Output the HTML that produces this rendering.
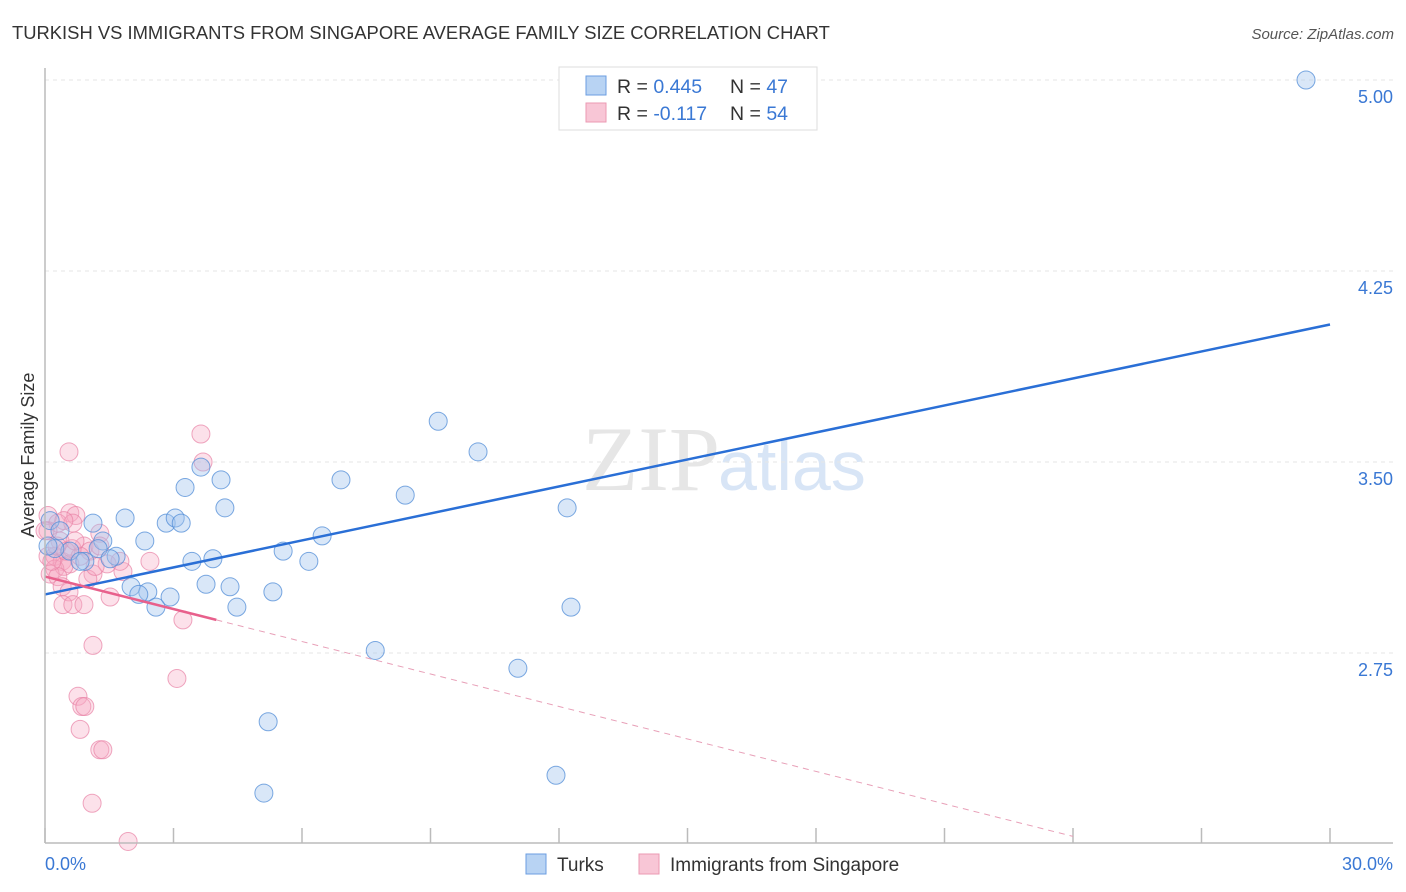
<!DOCTYPE html>
<html><head><meta charset="utf-8"><style>
body{margin:0;background:#fff;font-family:"Liberation Sans",sans-serif;}
svg{display:block}
</style></head><body>
<svg id="chart" width="1406" height="892">
<text x="12" y="39" font-size="18.4" fill="#333">TURKISH VS IMMIGRANTS FROM SINGAPORE AVERAGE FAMILY SIZE CORRELATION CHART</text>
<text x="1394" y="39" font-size="15" fill="#555" font-style="italic" text-anchor="end">Source: ZipAtlas.com</text>
<text x="720" y="490" font-size="92" fill="#e6e6e6" text-anchor="end" font-family="Liberation Serif">ZIP</text>
<text x="718" y="490" font-size="70" fill="#d8e5f6">atlas</text>
<text transform="translate(34,455) rotate(-90)" font-size="18" fill="#333" text-anchor="middle">Average Family Size</text>
<g id="grid"></g><g id="ticks"></g><g id="pts"></g><g id="trends"></g>
<line x1="45" y1="68" x2="45" y2="843" stroke="#bbb" stroke-width="1.5"/>
<line x1="45" y1="843" x2="1393" y2="843" stroke="#bbb" stroke-width="1.5"/>
<text x="45" y="870" font-size="18" fill="#3a78d4">0.0%</text>
<text x="1393" y="870" font-size="18" fill="#3a78d4" text-anchor="end">30.0%</text>
<g>
<rect x="559" y="67" width="258" height="63" fill="#fff" stroke="#ddd"/>
<rect x="586" y="76" width="20" height="19" fill="#b8d3f3" stroke="#6b9ee0"/>
<rect x="586" y="103" width="20" height="19" fill="#f8c6d6" stroke="#eb9ab3"/>
<text x="617" y="93" font-size="19.5" fill="#333">R = <tspan fill="#3a78d4">0.445</tspan><tspan x="730">N = </tspan><tspan fill="#3a78d4">47</tspan></text>
<text x="617" y="120" font-size="19.5" fill="#333">R = <tspan fill="#3a78d4">-0.117</tspan><tspan x="730">N = </tspan><tspan fill="#3a78d4">54</tspan></text>
</g>
<rect x="526" y="854" width="20" height="20" fill="#b8d3f3" stroke="#6b9ee0"/>
<text x="557" y="871" font-size="19" fill="#333">Turks</text>
<rect x="639" y="854" width="20" height="20" fill="#f8c6d6" stroke="#eb9ab3"/>
<text x="670" y="871" font-size="19" fill="#333">Immigrants from Singapore</text>
</svg>
<script>
const yTicks=[5.00,4.25,3.50,2.75];
const xTickVals=[0,3,6,9,12,15,18,21,24,27,30];
const turksX=[29.44,9.18,10.11,6.91,8.41,12.19,3.64,3.27,4.11,4.20,1.87,2.83,3.04,3.18,1.12,6.47,2.33,1.35,5.56,1.24,0.58,0.23,1.66,1.52,0.93,3.43,3.92,6.16,0.82,3.76,4.32,2.01,2.40,2.19,2.92,5.32,2.59,4.48,12.28,7.71,11.04,5.21,11.93,5.11,0.12,0.07,0.35];
const turksY=[5.00,3.66,3.54,3.43,3.37,3.32,3.48,3.40,3.43,3.32,3.28,3.26,3.28,3.26,3.26,3.21,3.19,3.19,3.15,3.16,3.15,3.16,3.13,3.12,3.11,3.11,3.12,3.11,3.11,3.02,3.01,3.01,2.99,2.98,2.97,2.99,2.93,2.93,2.93,2.76,2.69,2.48,2.27,2.20,3.27,3.17,3.23];
const singX=[3.64,3.69,0.56,0.58,0.72,0.07,0.30,0.65,0.07,1.28,0.35,0.91,0.07,0.23,0.40,0.58,0.23,0.44,1.45,1.82,1.12,0.12,0.30,0.63,1.05,1.00,0.40,0.56,1.52,0.42,0.65,0.91,3.22,1.12,3.08,0.77,0.86,0.93,0.82,1.28,1.35,1.10,1.94,0.16,0.82,0.49,1.28,0.28,0,0.70,1.75,0.44,1.17,2.45];
const singY=[3.61,3.50,3.54,3.30,3.29,3.29,3.26,3.26,3.23,3.22,3.19,3.17,3.13,3.13,3.11,3.10,3.08,3.09,3.10,3.07,3.06,3.06,3.05,3.16,3.15,3.04,3.01,2.99,2.97,2.94,2.94,2.94,2.88,2.78,2.65,2.58,2.54,2.54,2.45,2.37,2.37,2.16,2.01,3.11,3.13,3.15,3.17,3.17,3.23,3.19,3.11,3.27,3.09,3.11];
const turksTrend=[2.98,4.04];
const singTrend=[3.05,2.03];
const NS='http://www.w3.org/2000/svg';
const X=v=>45+v/30*1285, Y=v=>80+(5-v)/0.75*191;
function mk(t,a,p){const e=document.createElementNS(NS,t);for(const k in a)e.setAttribute(k,a[k]);document.getElementById(p).appendChild(e);return e;}
yTicks.forEach((v,i)=>{
 const g=mk('line',{x1:45,x2:1393,y1:Y(v),y2:Y(v),stroke:'#e6e6e6','stroke-dasharray':'4,4'},'grid');
 
 
 const t=mk('text',{x:1393,y:Y(v)+23,'font-size':18,fill:'#3a78d4','text-anchor':'end'},'ticks');
 t.textContent=v.toFixed(2);
 
 
});
xTickVals.forEach(v=>{
 const l=mk('line',{x1:X(v),x2:X(v),y1:828,y2:843,stroke:'#bbb','stroke-width':1.5},'ticks');
 
 
});
singX.forEach((x,i)=>{
 const c=mk('circle',{cx:X(x),cy:Y(singY[i]),r:9,fill:'rgba(245,170,196,0.35)',stroke:'rgba(232,130,165,0.7)','stroke-width':1},'pts');
 
 
});
turksX.forEach((x,i)=>{
 const c=mk('circle',{cx:X(x),cy:Y(turksY[i]),r:9,fill:'rgba(160,195,238,0.4)',stroke:'rgba(80,140,215,0.75)','stroke-width':1},'pts');
 
 
});
const bt=mk('line',{x1:X(0),y1:Y(turksTrend[0]),x2:X(30),y2:Y(turksTrend[1]),stroke:'#2a6fd6','stroke-width':2.5},'trends');


const ps=(singTrend[1]-singTrend[0])/24;
const pt=mk('line',{x1:X(0),y1:Y(singTrend[0]),x2:X(4),y2:Y(singTrend[0]+ps*4),stroke:'#e8608c','stroke-width':2.5},'trends');


const pd=mk('line',{x1:X(4),y1:Y(singTrend[0]+ps*4),x2:X(24),y2:Y(singTrend[1]),stroke:'#e8a0b8','stroke-width':1,'stroke-dasharray':'6,5'},'trends');


</script>
</body></html>
